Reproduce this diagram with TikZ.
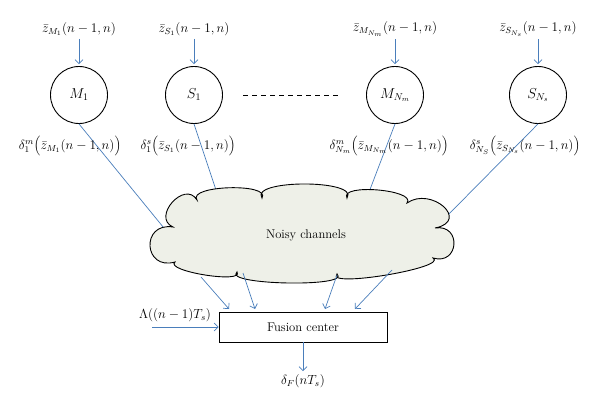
\documentclass[tikz,border=0pt]{standalone}
\usetikzlibrary{arrows.meta}
\definecolor{lineblue}{HTML}{4A7EBB}
\definecolor{cloudfill}{HTML}{EEF0E8}
\newcommand{\lblmath}[1]{\scalebox{1.1}{$#1$}}
\newcommand{\lbltext}[1]{\scalebox{1.05}{#1}}
\begin{document}
\begin{tikzpicture}[x=1pt,y=-1pt,
  font=\fontsize{12}{14}\selectfont,
  sensor/.style={circle,draw=black,line width=0.9pt,minimum size=57pt,inner sep=0pt,font=\fontsize{14.4}{16}\selectfont},
  lbl/.style={inner sep=1pt},
  link/.style={draw=lineblue,line width=0.7pt},
  feed/.style={link,-{Straight Barb[length=4pt,width=8pt]}},
  fusionbox/.style={draw=black,line width=0.8pt,minimum width=168pt,minimum height=30pt,inner sep=0pt},
  cloudline/.style={draw=black,line width=0.9pt,fill=cloudfill}
]
\useasboundingbox (0,0) rectangle (600,409);

% sensor nodes
\node[sensor] (M1) at (79,95) {$M_1$};
\node[sensor] (S1) at (194,95) {$S_1$};
\node[sensor] (MN) at (395,95) {$M_{N_m}$};
\node[sensor] (SN) at (538,95) {$S_{N_s}$};

% top labels
\node[lbl] (zM1) at (79,29) {\lblmath{\bar z_{M_1}(n-1,n)}};
\node[lbl] (zS1) at (194,29) {\lblmath{\bar z_{S_1}(n-1,n)}};
\node[lbl] (zMN) at (395,29) {\lblmath{\bar z_{M_{N_m}}(n-1,n)}};
\node[lbl] (zSN) at (538,29) {\lblmath{\bar z_{S_{N_s}}(n-1,n)}};

\draw[feed,shorten <=2pt,shorten >=2pt] (zM1) -- (M1);
\draw[feed,shorten <=2pt,shorten >=2pt] (zS1) -- (S1);
\draw[feed,shorten <=2pt,shorten >=2pt] (zMN) -- (MN);
\draw[feed,shorten <=2pt,shorten >=2pt] (zSN) -- (SN);

% dashed line between groups
\coordinate (d1) at (243,95);
\coordinate (d2) at (338,95);
\draw[black,line width=0.7pt,dash pattern=on 5pt off 4pt] (d1) -- (d2);

% lines to the cloud (drawn before the cloud)
\coordinate (cM1) at (168,233);
\coordinate (cS1) at (218,196);
\coordinate (cMN) at (366,200);
\coordinate (cSN) at (444,219);
\draw[link] (M1.south) -- (cM1);
\draw[link] (S1.south) -- (cS1);
\draw[link] (MN.south) -- (cMN);
\draw[link] (SN.south) -- (cSN);

% delta labels
\node[lbl] (dM1) at (70,146) {\lblmath{\delta_1^m\Bigl(\bar z_{M_1}(n-1,n)\Bigr)}};
\node[lbl] (dS1) at (188,146) {\lblmath{\delta_1^s\Bigl(\bar z_{S_1}(n-1,n)\Bigr)}};
\node[lbl] (dMN) at (389,146) {\lblmath{\delta_{N_m}^m\Bigl(\bar z_{M_{N_m}}(n-1,n)\Bigr)}};
\node[lbl] (dSN) at (525,146) {\lblmath{\delta_{N_S}^s\Bigl(\bar z_{S_{N_s}}(n-1,n)\Bigr)}};

% cloud
\path[cloudline]
  (173,227)
  .. controls +(-21.8,-9.6) and +(-12.2,-20.4) .. (197,200)
  .. controls +(-10.3,-14.7) and +(9.3,-15.3) .. (262,198)
  .. controls +(-12.8,-18.7) and +(12.8,-18.7) .. (347,198)
  .. controls +(-8,-14.8) and +(10,-13.3) .. (407,203)
  .. controls +(24.4,-17) and +(35.6,-7) .. (435,228)
  .. controls +(27,-4.2) and +(26.2,7.8) .. (433,258)
  .. controls +(16.4,9.6) and +(-12.4,14.4) .. (337,274)
  .. controls +(15,13.6) and +(-15,13) .. (237,272)
  .. controls +(7.6,12.1) and +(-11,9.1) .. (175,262)
  .. controls +(-31.6,9) and +(-32.4,-5) .. cycle;
\node (noisy) at (306,235) {\lbltext{Noisy channels}};

% fusion center
\node[fusionbox] (fc) at (303,327) {\lbltext{Fusion center}};

\coordinate (o1) at (201,277);
\coordinate (o2) at (243,273);
\coordinate (o3) at (337,275);
\coordinate (o4) at (392,270);
\coordinate (i1) at (229,309);
\coordinate (i2) at (255,309);
\coordinate (i3) at (325,309);
\coordinate (i4) at (355,309);
\draw[feed] (o1) -- (i1);
\draw[feed] (o2) -- (i2);
\draw[feed] (o3) -- (i3);
\draw[feed] (o4) -- (i4);

% lambda input
\node[lbl] (lam) at (175,315) {\lblmath{\Lambda((n-1)T_s)}};
\coordinate (lamstart) at (152,327);
\draw[feed] (lamstart) -- (fc.west);

% output
\node[lbl] (out) at (303,381) {\lblmath{\delta_F(nT_s)}};
\draw[feed,shorten >=2pt] (fc.south) -- (out);
\end{tikzpicture}
\end{document}
